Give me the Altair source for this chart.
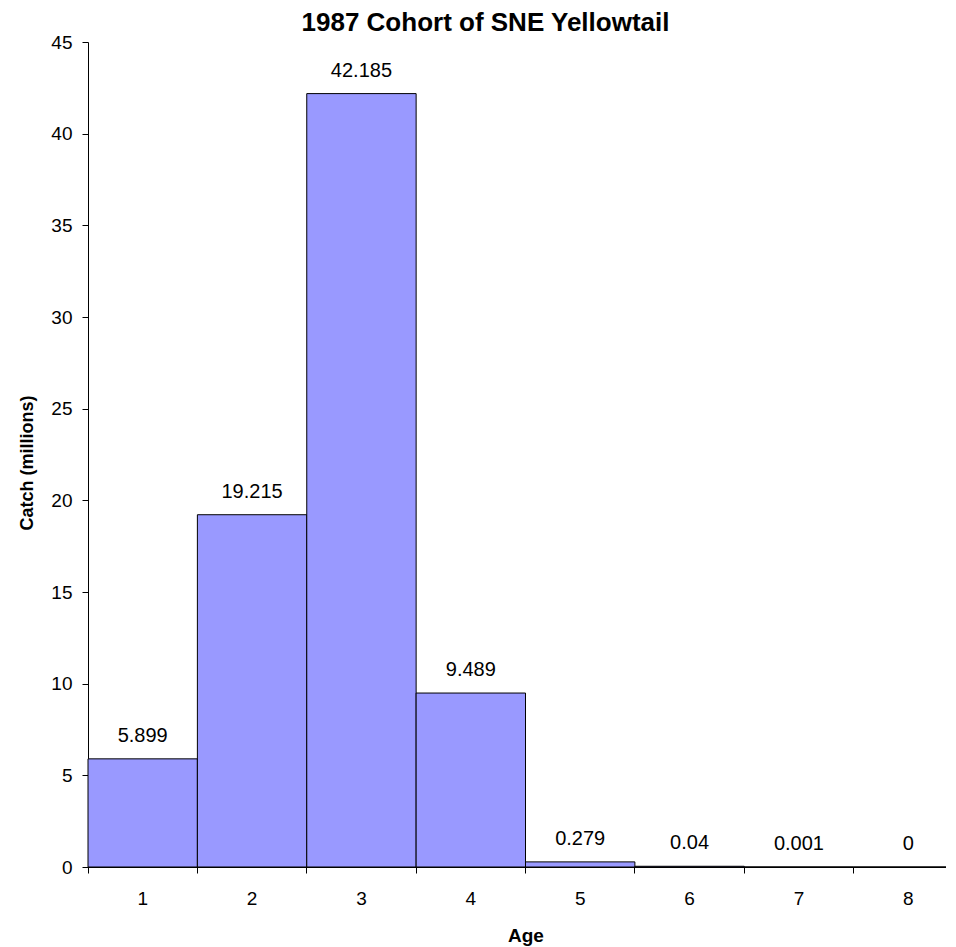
import altair as alt
import pandas as pd

ages = [1, 2, 3, 4, 5, 6, 7, 8]
catch = [5.899, 19.215, 42.185, 9.489, 0.279, 0.04, 0.001, 0]
labels = [f"{v:g}" for v in catch]
y_ticks = [0, 5, 10, 15, 20, 25, 30, 35, 40, 45]

df = pd.DataFrame({"age": ages, "catch": catch, "label": labels})

FONT = "Liberation Sans"
W, H = 875, 825

xscale = alt.Scale(paddingInner=0, paddingOuter=0)
yscale = alt.Scale(domain=[0, 45], nice=False, zero=True)

yaxis = alt.Axis(values=y_ticks, tickSize=6, tickColor="#000000",
                 domainColor="#000000", labelPadding=10, grid=False,
                 labelFont=FONT, labelFontSize=19, labelColor="#000000",
                 title="Catch (millions)", titleFont=FONT, titleFontSize=18,
                 titleFontWeight="bold", titleColor="#000000", titlePadding=14,
                 titleY=H / 2 + 8)

bars = alt.Chart(df).mark_bar(fill="#9999FF", stroke="#000000", strokeWidth=1).encode(
    x=alt.X("age:O", scale=xscale,
            axis=alt.Axis(orient="bottom", bandPosition=0, labels=False, ticks=True,
                          tickSize=6, tickColor="#000000", domain=True,
                          domainColor="#000000", title=None, grid=False)),
    y=alt.Y("catch:Q", scale=yscale, axis=yaxis),
)

text = alt.Chart(df).mark_text(baseline="alphabetic", dy=-17, fontSize=20, font=FONT,
                               color="#000000").encode(
    x=alt.X("age:O", scale=xscale,
            axis=alt.Axis(orient="bottom", ticks=False, domain=False, labelAngle=0,
                          labelPadding=22.5, labelFont=FONT, labelFontSize=19,
                          labelColor="#000000", title="Age", titleFont=FONT,
                          titleFontSize=19, titleFontWeight="bold",
                          titleColor="#000000", titlePadding=18, grid=False)),
    y=alt.Y("catch:Q", scale=yscale, axis=yaxis),
    text="label:N",
)

chart = alt.layer(bars, text).resolve_axis(x="independent").properties(
    width=W, height=H,
    background="#ffffff",
    title=alt.TitleParams("1987 Cohort of SNE Yellowtail", font=FONT, fontSize=26,
                          fontWeight="bold", color="#000000", dx=-40, offset=-3,
                          anchor="middle"),
    padding={"left": 10, "top": 2, "right": -18, "bottom": 0},
).configure_view(stroke=None)

chart.save("out.html", embed_options={"renderer": "svg", "actions": False})
